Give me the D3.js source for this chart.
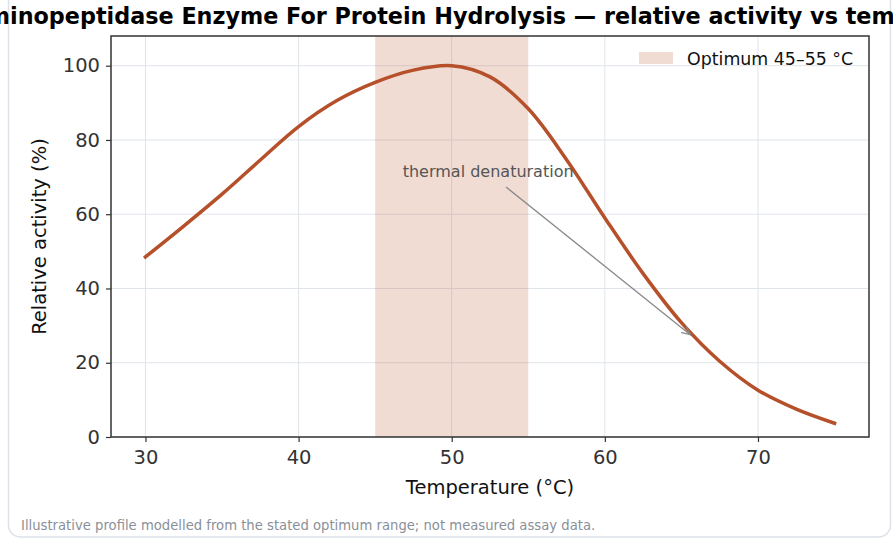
<!DOCTYPE html>
<html>
<head>
<meta charset="utf-8">
<script src="https://cdn.jsdelivr.net/npm/d3@7"></script>
<style>
  html, body { margin: 0; padding: 0; background: #fff; }
  svg { display: block; font-family: "DejaVu Sans", sans-serif; }
</style>
</head>
<body>
<svg id="chart" width="893" height="540"></svg>
<script>
// temperature (°C) and relative activity (%)
var temps    = [30, 32.5, 35, 37.5, 40, 42.5, 45, 47.5, 50, 52.5, 55, 57.5, 60, 62.5, 65, 67.5, 70, 72.5, 75];
var activity = [48.5, 56.8, 65.4, 74.6, 83.6, 90.6, 95.5, 98.8, 100, 97.0, 88.4, 74.7, 59.0, 44.0, 30.8, 20.4, 12.6, 7.5, 3.7];
var optimum  = [45, 55];
var xTicks   = [30, 40, 50, 60, 70];
var yTicks   = [0, 20, 40, 60, 80, 100];
var titleText  = "Aminopeptidase Enzyme For Protein Hydrolysis — relative activity vs temperature";
var footerText = "Illustrative profile modelled from the stated optimum range; not measured assay data.";

var svg = d3.select("#chart");
var m = { left: 111, right: 869, top: 36, bottom: 437 };

// card behind everything
svg.append("rect")
  .attr("x", 8.5).attr("y", -20).attr("width", 882).attr("height", 557)
  .attr("rx", 12).attr("fill", "#fff").attr("stroke", "#dde2e8").attr("stroke-width", 1.5);

var x = d3.scaleLinear().domain([27.75, 77.25]).range([m.left, m.right]);
var y = d3.scaleLinear().domain([0, 108]).range([m.bottom, m.top]);

// grid
svg.append("g").selectAll("line").data(xTicks).join("line")
  .attr("x1", d => x(d)).attr("x2", d => x(d))
  .attr("y1", m.top).attr("y2", m.bottom)
  .attr("stroke", "#dfe4ea").attr("stroke-width", 1);
svg.append("g").selectAll("line").data(yTicks).join("line")
  .attr("x1", m.left).attr("x2", m.right)
  .attr("y1", d => y(d)).attr("y2", d => y(d))
  .attr("stroke", "#dfe4ea").attr("stroke-width", 1);

// optimum band
svg.append("rect")
  .attr("x", x(optimum[0])).attr("width", x(optimum[1]) - x(optimum[0]))
  .attr("y", m.top).attr("height", m.bottom - m.top)
  .attr("fill", "#b8502a").attr("fill-opacity", 0.2);

// curve
var line = d3.line().x((d, i) => x(temps[i])).y(d => y(d)).curve(d3.curveCatmullRom.alpha(0.5));
svg.append("path").datum(activity)
  .attr("d", line).attr("fill", "none")
  .attr("stroke", "#b5502a").attr("stroke-width", 3.5).attr("stroke-linecap", "square");

// axes
var xAxis = svg.append("g").attr("transform", "translate(0," + m.bottom + ")")
  .call(d3.axisBottom(x).tickValues(xTicks).tickSize(5).tickPadding(6));
var yAxis = svg.append("g").attr("transform", "translate(" + m.left + ",0)")
  .call(d3.axisLeft(y).tickValues(yTicks).tickSize(5).tickPadding(6));
[xAxis, yAxis].forEach(function (g) {
  g.select(".domain").remove();
  g.selectAll(".tick line").attr("stroke", "#333").attr("stroke-width", 1.2);
  g.selectAll(".tick text").attr("fill", "#333").style("font-size", "19.5px")
    .style("font-family", "DejaVu Sans");
});
xAxis.selectAll(".tick text").attr("dy", "0.8em");

// spines
svg.append("rect")
  .attr("x", m.left).attr("y", m.top)
  .attr("width", m.right - m.left).attr("height", m.bottom - m.top)
  .attr("fill", "none").attr("stroke", "#333").attr("stroke-width", 1.5);

// annotation
var ann = { tx: 46.8, ty: 70.5, ax: 65.6, ay: 27.5 };
svg.append("defs").append("marker")
  .attr("id", "arr").attr("viewBox", "0 0 10 10").attr("refX", 9).attr("refY", 5)
  .attr("markerWidth", 10).attr("markerHeight", 10).attr("markerUnits", "userSpaceOnUse")
  .attr("orient", "auto")
  .append("path").attr("d", "M0,1 L9,5 L0,9").attr("fill", "none")
  .attr("stroke", "#888").attr("stroke-width", 1.2);
svg.append("line")
  .attr("x1", 506).attr("y1", 187)
  .attr("x2", x(ann.ax)).attr("y2", y(ann.ay))
  .attr("stroke", "#888").attr("stroke-width", 1.3).attr("marker-end", "url(#arr)");
svg.append("text")
  .attr("x", x(ann.tx)).attr("y", 177)
  .attr("fill", "#555").style("font-size", "16px")
  .text("thermal denaturation");

// legend
svg.append("rect").attr("x", 639).attr("y", 52).attr("width", 34).attr("height", 12)
  .attr("fill", "#b8502a").attr("fill-opacity", 0.2);
svg.append("text").attr("x", 687).attr("y", 64.5)
  .attr("fill", "#111").style("font-size", "17.4px").text("Optimum 45–55 °C");

// labels
svg.append("text")
  .attr("x", (m.left + m.right) / 2).attr("y", 494).attr("text-anchor", "middle")
  .attr("fill", "#111").style("font-size", "19.5px").text("Temperature (°C)");
svg.append("text")
  .attr("transform", "translate(46," + (m.top + m.bottom) / 2 + ") rotate(-90)")
  .attr("text-anchor", "middle")
  .attr("fill", "#111").style("font-size", "19.5px").text("Relative activity (%)");

// title (wider than the card, cut at both edges as in the reference)
svg.append("text")
  .attr("x", 487).attr("y", 24).attr("text-anchor", "middle")
  .attr("fill", "#000").style("font-size", "22.3px").style("font-weight", "bold")
  .text(titleText);

// footer
svg.append("text")
  .attr("x", 21).attr("y", 530)
  .attr("fill", "#8a9099").style("font-size", "13.2px")
  .text(footerText);
</script>
</body>
</html>
